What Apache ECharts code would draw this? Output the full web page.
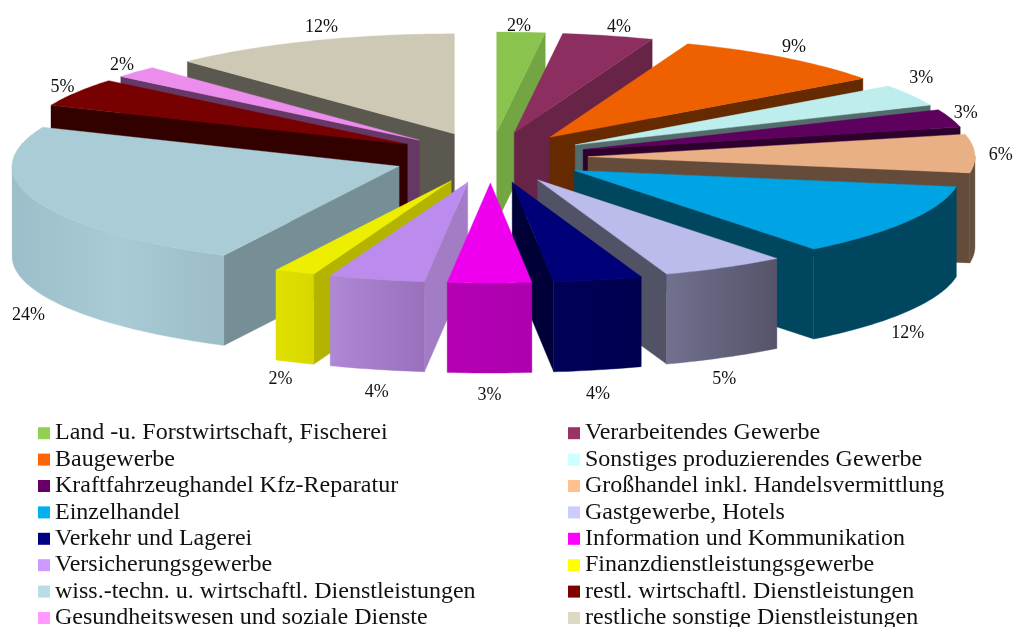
<!DOCTYPE html>
<html><head><meta charset="utf-8">
<style>html,body{margin:0;padding:0;background:#fff}#c{width:1014px;height:627px}</style>
<script src="https://cdn.jsdelivr.net/npm/echarts@6/dist/echarts.min.js"></script>
</head><body><div id="c"></div>
<script>
const categories = ["Land -u. Forstwirtschaft, Fischerei","Verarbeitendes Gewerbe","Baugewerbe","Sonstiges produzierendes Gewerbe","Kraftfahrzeughandel Kfz-Reparatur","Großhandel inkl. Handelsvermittlung","Einzelhandel","Gastgewerbe, Hotels","Verkehr und Lagerei","Information und Kommunikation","Versicherungsgewerbe","Finanzdienstleistungsgewerbe","wiss.-techn. u. wirtschaftl. Dienstleistungen","restl. wirtschaftl. Dienstleistungen","Gesundheitswesen und soziale Dienste","restliche sonstige Dienstleistungen"];
const shares = [2.0,3.8,9.2,3.49,2.9,6.2,11.8,5.2,3.7,3.49,4.0,1.7,23.9,4.6,1.9,12.12];
const topColors = ["#8BC34F","#8C2F60","#EE6000","#BDEDED","#5E005E","#E8B084","#00A3E3","#BBBBEC","#000078","#EE00EE","#BB8CEE","#EEEE00","#A9CCD6","#770000","#EC8CEC","#CEC9B4"];
const sideColors = ["#73A543","#672447","#662A00","#526B6B","#2E002E","#644B3A","#00465F","#525267","#000038","#A000A0","#A27CC4","#B3B300","#768E95","#330000","#663866","#5B5850"];
const wallColors = [["#7DB046","#7DB046"],["#7A2954","#7A2954"],["#662A00","#662A00"],["#526B6B","#526B6B"],["#2E002E","#2E002E"],["#64503F","#64503F"],["#00465F","#00465F"],["#71708F","#55546A"],["#000058","#000050"],["#B400B4","#AE00AE"],["#AF88D6","#9870BC"],["#E0E000","#D8D800"],["#9BBECA","#A8CBD5","#9DBDC8"],["#330000","#330000"],["#663866","#663866"],["#5B5850","#5B5850"]];
const legendColors = ["#92D050","#993366","#FF6600","#CCFFFF","#660066","#FFBF8F","#00B0F0","#CCCCFF","#000080","#FF00FF","#CC99FF","#FFFF00","#B7DDE8","#800000","#FF99FF","#DDD9C3"];
const labelNudges = [[-2,-6],[11,-8],[9,-11],[10,-17],[15,-5],[26,2],[0,22],[0,22],[0,24],[0,22],[0,23],[-14,17],[-7,25],[-14,-5],[-14,-7],[11,-14]];

const CX = 490.6, CY = 157.5, RX = 387, RY = 100, DEPTH = 90, EX = 97.4, EY = 25.5;
const total = shares.reduce((a,b)=>a+b,0);
let acc = 0;
const spans = shares.map(v=>{const s=acc/total*2*Math.PI; acc+=v; return [s,acc/total*2*Math.PI];});
const rim = (a,t)=>[a[0]+Math.sin(t)*RX,a[1]-Math.cos(t)*RY];
const down = p=>[p[0],p[1]+DEPTH];
const order = shares.map((_,i)=>{const m=(spans[i][0]+spans[i][1])/2;return [i,Math.abs(m-Math.PI)];}).sort((a,b)=>b[1]-a[1]);
const rank = {}; order.forEach((o,k)=>rank[o[0]]=k);

function renderSlice(i){
  const [a0,a1]=spans[i], m=(a0+a1)/2;
  const apex=[CX+Math.sin(m)*EX, CY-Math.cos(m)*EY];
  const arc=[]; const n=Math.max(4,Math.ceil((a1-a0)*180/Math.PI));
  for(let k=0;k<=n;k++) arc.push(rim(apex,a0+(a1-a0)*k/n));
  const kids=[];
  const quad=(p,fill)=>kids.push({type:'polygon',shape:{points:p},style:{fill,stroke:fill,lineWidth:0.4}});
  if(Math.sin(a0)<0){const r=rim(apex,a0);quad([apex,r,down(r),down(apex)],sideColors[i]);}
  if(Math.sin(a1)>0){const r=rim(apex,a1);quad([apex,r,down(r),down(apex)],sideColors[i]);}
  const vis=[]; for(let k=0;k<=n;k++){const t=a0+(a1-a0)*k/n; if(Math.cos(t)<=0.02) vis.push(arc[k]);}
  if(vis.length>1){
    const w=wallColors[i];
    quad(vis.concat(vis.map(down).reverse()),new echarts.graphic.LinearGradient(0,0,1,0,w.map((color,k)=>({offset:k/(w.length-1),color}))));
  }
  kids.push({type:'polygon',shape:{points:[apex].concat(arc)},style:{fill:topColors[i],stroke:topColors[i],lineWidth:0.4}});
  const r=rim(apex,m), c=-Math.cos(m);
  const lx=r[0]+labelNudges[i][0], ly=r[1]+(c>0.2?DEPTH:0)+labelNudges[i][1];
  kids.push({type:'text',style:{text:Math.round(shares[i]/total*100)+'%',x:lx,y:ly,align:'center',verticalAlign:'middle',font:'18px "Liberation Serif"',fill:'#111'}});
  return {type:'group',children:kids};
}
const series = categories.map((name,i)=>({type:'custom',name,coordinateSystem:'none',z:2+rank[i],silent:true,animation:false,
  data:[shares[i]],renderItem:()=>renderSlice(i)}));
const legendBase = {orient:'vertical',itemWidth:12,itemHeight:12,itemGap:0,icon:'rect',selectedMode:false,padding:0,top:420,height:400,
  textStyle:{fontFamily:'"Liberation Serif"',fontSize:24,color:'#111',lineHeight:22.4,padding:[4,0,0,0]}};
const items = r=>categories.map((name,i)=>({name,i})).filter(o=>o.i%2===r).map(o=>({name:o.name,itemStyle:{color:legendColors[o.i]}}));
const chart = echarts.init(document.getElementById('c'),null,{renderer:'canvas'});
chart.setOption({animation:false,backgroundColor:'#fff',
  legend:[Object.assign({},legendBase,{left:38,data:items(0)}),Object.assign({},legendBase,{left:568,data:items(1)})],
  series});
</script></body></html>
